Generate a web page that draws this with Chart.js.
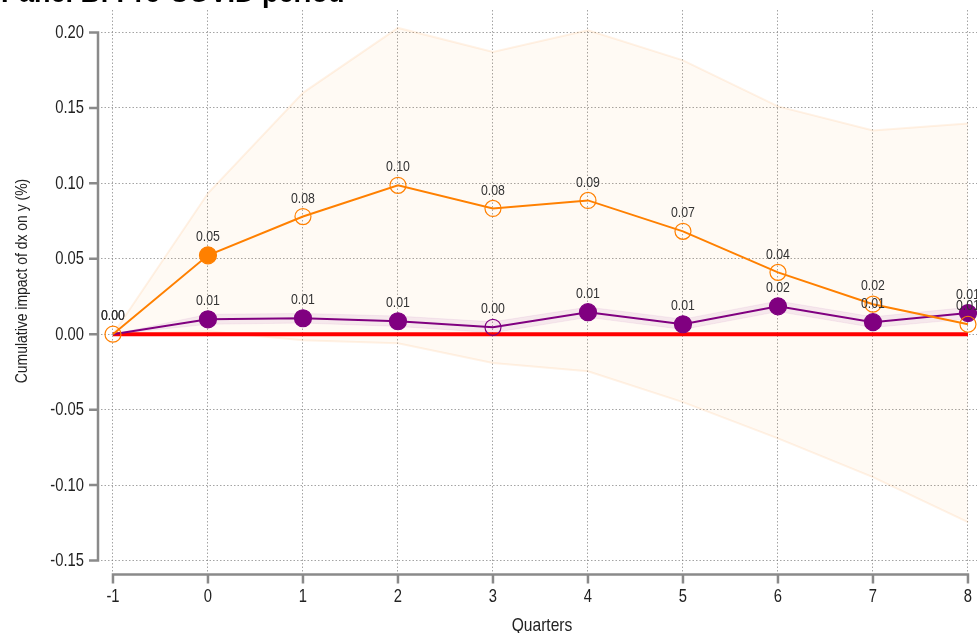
<!DOCTYPE html>
<html>
<head>
<meta charset="utf-8">
<script src="https://cdn.jsdelivr.net/npm/chart.js@4.4.1/dist/chart.umd.min.js"></script>
<style>
  html, body { margin: 0; padding: 0; background: #ffffff; overflow: hidden; }
  canvas { display: block; }
</style>
</head>
<body>
<canvas id="chart" width="977" height="633"></canvas>
<script>
// Horizon in quarters
const quarters = [-1, 0, 1, 2, 3, 4, 5, 6, 7, 8];

// Orange series: point estimates and confidence band
const orangeValues = [0.000, 0.0523, 0.0780, 0.0987, 0.0834, 0.0887, 0.0682, 0.0410, 0.0199, 0.0066];
const orangeUpper  = [0.000, 0.0934, 0.1600, 0.2030, 0.1870, 0.2015, 0.1815, 0.1510, 0.1350, 0.1397];
const orangeLower  = [0.000, 0.0020, -0.0040, -0.0060, -0.0190, -0.0245, -0.0450, -0.0690, -0.0947, -0.1245];
const orangeFilled = [false, true, false, false, false, false, false, false, false, false];

// Purple series: point estimates and confidence band
const purpleValues = [0.000, 0.0099, 0.0106, 0.0086, 0.0046, 0.0146, 0.0066, 0.0185, 0.0080, 0.0140];
const purpleUpper  = [0.000, 0.0132, 0.0138, 0.0120, 0.0082, 0.0180, 0.0100, 0.0220, 0.0115, 0.0178];
const purpleLower  = [0.000, 0.0066, 0.0074, 0.0052, 0.0010, 0.0112, 0.0032, 0.0150, 0.0045, 0.0102];
const purpleFilled = [null, true, true, true, false, true, true, true, true, true];

// Reference line at zero
const zeroLine = [0, 0];

// Axis ticks and texts
const yTickValues = [-0.15, -0.10, -0.05, 0.00, 0.05, 0.10, 0.15, 0.20];
const xTickLabels = ['-1', '0', '1', '2', '3', '4', '5', '6', '7', '8'];
const panelTitle = 'Panel B: Pre-COVID period';
const yAxisTitle = 'Cumulative impact of dx on y (%)';
const xAxisTitle = 'Quarters';

const ORANGE = '#ff8000';
const PURPLE = '#800080';
const SANS = '"Liberation Sans", Arial, sans-serif';
const NARROW_X = 0.82;          // horizontal squeeze giving a narrow sans face
const AXIS_GRAY = '#8a8a8a';
const TEXT = '#222222';

const toPoints = ys => quarters.map((q, i) => ({ x: q, y: ys[i] }));
const markerRadius = flags => flags.map(f => f === null ? 0 : (f ? 8.5 : 8));
const markerFill = (flags, color) => flags.map(f => f ? color : 'rgba(0,0,0,0)');

// Narrow text helper
function narrowText(ctx, text, x, y, opts) {
  const o = Object.assign({ size: 18, align: 'center', baseline: 'middle', color: TEXT, rotate: false, weight: '' }, opts);
  ctx.save();
  ctx.translate(x, y);
  if (o.rotate) ctx.rotate(-Math.PI / 2);
  ctx.scale(NARROW_X, 1);
  ctx.font = (o.weight ? o.weight + ' ' : '') + o.size + 'px ' + SANS;
  ctx.fillStyle = o.color;
  ctx.textAlign = o.align;
  ctx.textBaseline = o.baseline;
  ctx.fillText(text, 0, 0);
  ctx.restore();
}

// Axis lines across the tick range, outward tick marks, tick labels and axis titles
const axes = {
  id: 'axes',
  afterDraw(chart) {
    const { ctx, chartArea, scales } = chart;
    const xs = scales.x, ys = scales.y;
    ctx.save();
    ctx.strokeStyle = AXIS_GRAY;
    ctx.lineWidth = 2.5;
    ctx.lineCap = 'butt';
    // x axis
    const yLine = chartArea.bottom + 2.5;
    const x0 = xs.getPixelForValue(quarters[0]);
    const x1 = xs.getPixelForValue(quarters[quarters.length - 1]);
    ctx.beginPath();
    ctx.moveTo(x0 - 1.25, yLine);
    ctx.lineTo(x1 + 1.25, yLine);
    quarters.forEach(q => {
      const px = xs.getPixelForValue(q);
      ctx.moveTo(px, yLine);
      ctx.lineTo(px, yLine + 9);
    });
    ctx.stroke();
    // y axis
    const xLine = chartArea.left - 3;
    const yTop = ys.getPixelForValue(yTickValues[yTickValues.length - 1]);
    const yBot = ys.getPixelForValue(yTickValues[0]);
    ctx.beginPath();
    ctx.moveTo(xLine, yTop - 1.25);
    ctx.lineTo(xLine, yBot + 1.25);
    yTickValues.forEach(v => {
      const py = ys.getPixelForValue(v);
      ctx.moveTo(xLine, py);
      ctx.lineTo(xLine - 9, py);
    });
    ctx.stroke();
    ctx.restore();

    // tick labels
    quarters.forEach((q, i) => {
      narrowText(ctx, xTickLabels[i], xs.getPixelForValue(q), chartArea.bottom + 25, { size: 18 });
    });
    yTickValues.forEach(v => {
      narrowText(ctx, v.toFixed(2), chartArea.left - 17, ys.getPixelForValue(v) + 0.5, { size: 18, align: 'right' });
    });

    // axis titles
    narrowText(ctx, xAxisTitle, (chartArea.left + chartArea.right) / 2 + 3, 626, { size: 19 });
    narrowText(ctx, yAxisTitle, 22, 281, { size: 17, rotate: true });

    // panel heading, partly above the canvas edge
    ctx.save();
    ctx.font = 'bold 27px ' + SANS;
    ctx.fillStyle = '#000000';
    ctx.textAlign = 'left';
    ctx.textBaseline = 'alphabetic';
    ctx.fillText(panelTitle, 1, 2);
    ctx.restore();
  }
};

// Value labels above each marker
const valueLabels = {
  id: 'valueLabels',
  afterDatasetsDraw(chart) {
    const { ctx } = chart;
    chart.data.datasets.forEach((ds, di) => {
      if (!ds.labelValues) return;
      const meta = chart.getDatasetMeta(di);
      meta.data.forEach((el, i) => {
        narrowText(ctx, ds.labelValues[i].toFixed(2), el.x, el.y - 18, { size: 15, color: '#333333' });
      });
    });
  }
};

const zeroPadding = s => { s.paddingTop = 0; s.paddingBottom = 0; s.paddingLeft = 0; s.paddingRight = 0; };

new Chart(document.getElementById('chart'), {
  type: 'line',
  data: {
    datasets: [
      {
        data: toPoints(orangeLower),
        borderColor: 'rgba(255,128,0,0.10)', borderWidth: 2,
        pointRadius: 0, fill: false, order: 9
      },
      {
        data: toPoints(orangeUpper),
        borderColor: 'rgba(255,128,0,0.10)', borderWidth: 2,
        backgroundColor: 'rgba(255,140,0,0.045)',
        pointRadius: 0, fill: '-1', order: 8
      },
      {
        data: toPoints(purpleLower),
        borderColor: 'rgba(128,0,128,0.06)', borderWidth: 1,
        pointRadius: 0, fill: false, order: 7
      },
      {
        data: toPoints(purpleUpper),
        borderColor: 'rgba(128,0,128,0.06)', borderWidth: 1,
        backgroundColor: 'rgba(128,0,128,0.07)',
        pointRadius: 0, fill: '-1', order: 6
      },
      {
        data: [{ x: quarters[0], y: zeroLine[0] }, { x: quarters[quarters.length - 1], y: zeroLine[1] }],
        borderColor: '#ff0000', borderWidth: 4,
        pointRadius: 0, fill: false, order: 3
      },
      {
        data: toPoints(purpleValues),
        labelValues: purpleValues,
        borderColor: PURPLE, borderWidth: 2,
        pointRadius: markerRadius(purpleFilled),
        pointBackgroundColor: markerFill(purpleFilled, PURPLE),
        pointBorderColor: PURPLE, pointBorderWidth: 1.2,
        fill: false, order: 2
      },
      {
        data: toPoints(orangeValues),
        labelValues: orangeValues,
        borderColor: ORANGE, borderWidth: 2,
        pointRadius: markerRadius(orangeFilled),
        pointBackgroundColor: markerFill(orangeFilled, ORANGE),
        pointBorderColor: ORANGE, pointBorderWidth: 1.2,
        fill: false, order: 1
      }
    ]
  },
  options: {
    responsive: false,
    animation: false,
    devicePixelRatio: 1,
    layout: { autoPadding: false, padding: { top: 10, right: 0, bottom: 0, left: 0 } },
    plugins: { legend: { display: false }, tooltip: { enabled: false }, title: { display: false } },
    elements: { line: { tension: 0 } },
    scales: {
      x: {
        type: 'linear',
        min: -1.126,
        max: 8.095,
        afterBuildTicks: s => { s.ticks = quarters.map(v => ({ value: v })); },
        afterFit: s => { s.height = 61; zeroPadding(s); },
        ticks: { display: false },
        grid: { color: 'rgba(125,125,125,0.7)', lineWidth: 1, drawTicks: false },
        border: { display: false, dash: [1.5, 2] },
        title: { display: false }
      },
      y: {
        min: -0.1576,
        max: 0.2149,
        afterBuildTicks: s => { s.ticks = yTickValues.map(v => ({ value: v })); },
        afterFit: s => { s.width = 101; zeroPadding(s); },
        ticks: { display: false },
        grid: { color: 'rgba(125,125,125,0.7)', lineWidth: 1, drawTicks: false },
        border: { display: false, dash: [1.5, 2] },
        title: { display: false }
      }
    }
  },
  plugins: [axes, valueLabels]
});
</script>
</body>
</html>
